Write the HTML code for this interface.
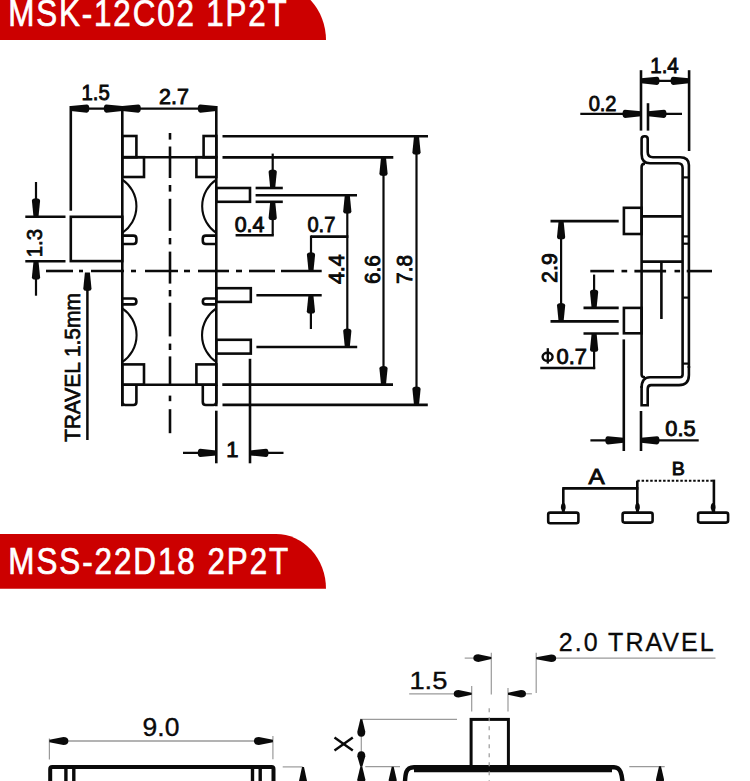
<!DOCTYPE html>
<html><head><meta charset="utf-8"><style>
html,body{margin:0;padding:0;background:#fff;}
body{width:750px;height:781px;overflow:hidden;}
svg{display:block;font-family:"Liberation Sans",sans-serif;}
</style></head><body>
<svg width="750" height="781" viewBox="0 0 750 781">
<rect width="750" height="781" fill="#fff"/>
<path d="M0,-15.2 H276 A50,55.2 0 0 1 326,40 H0 Z" fill="#cc0000"/>
<text x="0" y="0" font-size="36.5" fill="#fff" stroke="#fff" stroke-width="0.7" transform="translate(8.3,25.6) scale(0.86,1)" textLength="323.84" lengthAdjust="spacing">MSK-12C02 1P2T</text>
<path d="M0,534 H276 A50,54.7 0 0 1 326,588.7 H0 Z" fill="#cc0000"/>
<text x="0" y="0" font-size="36.5" fill="#fff" stroke="#fff" stroke-width="0.7" transform="translate(8.3,574) scale(0.86,1)" textLength="325.58" lengthAdjust="spacing">MSS-22D18 2P2T</text>
<line x1="122.3" y1="106" x2="122.3" y2="406.2" stroke="#0a0a0a" stroke-width="2.6"/>
<line x1="216.3" y1="106" x2="216.3" y2="406.2" stroke="#0a0a0a" stroke-width="2.6"/>
<rect x="122.3" y="136" width="14.1" height="21.2" rx="0" fill="none" stroke="#0a0a0a" stroke-width="2.6"/>
<rect x="203.6" y="136" width="12.7" height="21.2" rx="0" fill="none" stroke="#0a0a0a" stroke-width="2.6"/>
<line x1="122.3" y1="157.2" x2="216.3" y2="157.2" stroke="#0a0a0a" stroke-width="2.6"/>
<rect x="122.3" y="157.2" width="21.7" height="19.8" rx="0" fill="none" stroke="#0a0a0a" stroke-width="2.6"/>
<rect x="196.4" y="157.2" width="19.9" height="19.8" rx="0" fill="none" stroke="#0a0a0a" stroke-width="2.6"/>
<path d="M122.3,179.6 A32.3,32.3 0 0 1 122.3,233" fill="none" stroke="#0a0a0a" stroke-width="2.1"/>
<path d="M216.3,179.6 A32.3,32.3 0 0 0 216.3,233" fill="none" stroke="#0a0a0a" stroke-width="2.1"/>
<path d="M122.3,308.4 A32.3,32.3 0 0 1 122.3,362" fill="none" stroke="#0a0a0a" stroke-width="2.1"/>
<path d="M216.3,308.4 A32.3,32.3 0 0 0 216.3,362" fill="none" stroke="#0a0a0a" stroke-width="2.1"/>
<path d="M122.3,235.6 H133.4 Q136.4,235.6 136.4,238.6 V241 Q136.4,244 133.4,244 H122.3" fill="none" stroke="#0a0a0a" stroke-width="2.6"/>
<path d="M216.3,235.6 H205.8 Q202.8,235.6 202.8,238.6 V241 Q202.8,244 205.8,244 H216.3" fill="none" stroke="#0a0a0a" stroke-width="2.6"/>
<path d="M122.3,298.5 H133.4 Q136.4,298.5 136.4,301.5 V301.4 Q136.4,304.4 133.4,304.4 H122.3" fill="none" stroke="#0a0a0a" stroke-width="2.6"/>
<path d="M216.3,298.5 H205.8 Q202.8,298.5 202.8,301.5 V301.4 Q202.8,304.4 205.8,304.4 H216.3" fill="none" stroke="#0a0a0a" stroke-width="2.6"/>
<rect x="122.3" y="364.4" width="21.7" height="20.3" rx="0" fill="none" stroke="#0a0a0a" stroke-width="2.6"/>
<rect x="196.4" y="364.4" width="19.9" height="20.3" rx="0" fill="none" stroke="#0a0a0a" stroke-width="2.6"/>
<line x1="122.3" y1="384.7" x2="216.3" y2="384.7" stroke="#0a0a0a" stroke-width="2.6"/>
<path d="M122.3,384.7 V402 Q122.3,405 125.3,405 H133.4 Q136.4,405 136.4,402 V384.7" fill="none" stroke="#0a0a0a" stroke-width="2.6"/>
<path d="M216.3,384.7 V402 Q216.3,405 213.3,405 H205.8 Q202.8,405 202.8,402 V384.7" fill="none" stroke="#0a0a0a" stroke-width="2.6"/>
<line x1="170" y1="133" x2="170" y2="139.6" stroke="#0a0a0a" stroke-width="2.6"/>
<line x1="170" y1="146.5" x2="170" y2="178" stroke="#0a0a0a" stroke-width="2.6"/>
<line x1="170" y1="185" x2="170" y2="191.6" stroke="#0a0a0a" stroke-width="2.6"/>
<line x1="170" y1="198.8" x2="170" y2="230.8" stroke="#0a0a0a" stroke-width="2.6"/>
<line x1="170" y1="238" x2="170" y2="244.4" stroke="#0a0a0a" stroke-width="2.6"/>
<line x1="170" y1="251.6" x2="170" y2="283.6" stroke="#0a0a0a" stroke-width="2.6"/>
<line x1="170" y1="290" x2="170" y2="296.4" stroke="#0a0a0a" stroke-width="2.6"/>
<line x1="170" y1="302.8" x2="170" y2="336.4" stroke="#0a0a0a" stroke-width="2.6"/>
<line x1="170" y1="343.6" x2="170" y2="350" stroke="#0a0a0a" stroke-width="2.6"/>
<line x1="170" y1="356.4" x2="170" y2="386" stroke="#0a0a0a" stroke-width="2.6"/>
<line x1="170" y1="395.6" x2="170" y2="401.2" stroke="#0a0a0a" stroke-width="2.6"/>
<line x1="170" y1="409.2" x2="170" y2="433.2" stroke="#0a0a0a" stroke-width="2.6"/>
<line x1="46" y1="271" x2="73" y2="271" stroke="#0a0a0a" stroke-width="2.6"/>
<line x1="79" y1="271" x2="83" y2="271" stroke="#0a0a0a" stroke-width="2.6"/>
<line x1="91" y1="271" x2="124" y2="271" stroke="#0a0a0a" stroke-width="2.6"/>
<line x1="131" y1="271" x2="136" y2="271" stroke="#0a0a0a" stroke-width="2.6"/>
<line x1="145" y1="271" x2="178" y2="271" stroke="#0a0a0a" stroke-width="2.6"/>
<line x1="184" y1="271" x2="190" y2="271" stroke="#0a0a0a" stroke-width="2.6"/>
<line x1="198" y1="271" x2="229" y2="271" stroke="#0a0a0a" stroke-width="2.6"/>
<line x1="236" y1="271" x2="242" y2="271" stroke="#0a0a0a" stroke-width="2.6"/>
<line x1="249" y1="271" x2="275" y2="271" stroke="#0a0a0a" stroke-width="2.6"/>
<line x1="281" y1="271" x2="321.7" y2="271" stroke="#0a0a0a" stroke-width="2.6"/>
<line x1="70.8" y1="106" x2="70.8" y2="210.7" stroke="#0a0a0a" stroke-width="2.6"/>
<rect x="70.8" y="216.8" width="51.5" height="44.3" rx="0" fill="none" stroke="#0a0a0a" stroke-width="2.6"/>
<line x1="70.8" y1="108.6" x2="216.3" y2="108.6" stroke="#0a0a0a" stroke-width="2.2"/>
<path transform="translate(70.8,108.6) rotate(0)" d="M0,-2.5 L16,-4.1 Q18.5,-4.1 18.5,0 Q18.5,4.1 16,4.1 L0,2.5 Z" fill="#0a0a0a"/>
<path transform="translate(122.3,108.6) rotate(180)" d="M0,-2.5 L16,-4.1 Q18.5,-4.1 18.5,0 Q18.5,4.1 16,4.1 L0,2.5 Z" fill="#0a0a0a"/>
<path transform="translate(122.3,108.6) rotate(0)" d="M0,-2.5 L16,-4.1 Q18.5,-4.1 18.5,0 Q18.5,4.1 16,4.1 L0,2.5 Z" fill="#0a0a0a"/>
<path transform="translate(216.3,108.6) rotate(180)" d="M0,-2.5 L16,-4.1 Q18.5,-4.1 18.5,0 Q18.5,4.1 16,4.1 L0,2.5 Z" fill="#0a0a0a"/>
<text x="95.6" y="100.4" font-size="22" text-anchor="middle" fill="#0a0a0a" stroke="#0a0a0a" stroke-width="0.9" textLength="28.2" lengthAdjust="spacingAndGlyphs">1.5</text>
<text x="174" y="103.6" font-size="22" text-anchor="middle" fill="#0a0a0a" stroke="#0a0a0a" stroke-width="0.9" textLength="29.8" lengthAdjust="spacingAndGlyphs">2.7</text>
<line x1="25.3" y1="216.8" x2="65.5" y2="216.8" stroke="#0a0a0a" stroke-width="2.6"/>
<line x1="25.3" y1="261.3" x2="65.5" y2="261.3" stroke="#0a0a0a" stroke-width="2.6"/>
<line x1="36" y1="182" x2="36" y2="216.8" stroke="#0a0a0a" stroke-width="2.2"/>
<path transform="translate(36,216.8) rotate(-90)" d="M0,-2.5 L16,-4.1 Q18.5,-4.1 18.5,0 Q18.5,4.1 16,4.1 L0,2.5 Z" fill="#0a0a0a"/>
<line x1="36" y1="261.3" x2="36" y2="295.7" stroke="#0a0a0a" stroke-width="2.2"/>
<path transform="translate(36,261.3) rotate(90)" d="M0,-2.5 L16,-4.1 Q18.5,-4.1 18.5,0 Q18.5,4.1 16,4.1 L0,2.5 Z" fill="#0a0a0a"/>
<text x="0" y="0" font-size="21.5" text-anchor="middle" fill="#0a0a0a" stroke="#0a0a0a" stroke-width="0.7" transform="translate(41.6,243.2) rotate(-90)" textLength="28.3" lengthAdjust="spacingAndGlyphs">1.3</text>
<line x1="87.4" y1="273" x2="87.4" y2="440" stroke="#0a0a0a" stroke-width="2.5"/>
<path transform="translate(87.4,272.6) rotate(90)" d="M0,-2.5 L16,-4.1 Q18.5,-4.1 18.5,0 Q18.5,4.1 16,4.1 L0,2.5 Z" fill="#0a0a0a"/>
<text x="0" y="0" font-size="22" text-anchor="middle" fill="#0a0a0a" stroke="#0a0a0a" stroke-width="0.7" transform="translate(80.3,367.6) rotate(-90)" textLength="149" lengthAdjust="spacingAndGlyphs">TRAVEL 1.5mm</text>
<line x1="222.5" y1="136.3" x2="428" y2="136.3" stroke="#0a0a0a" stroke-width="2.6"/>
<line x1="222.5" y1="157.4" x2="393.3" y2="157.4" stroke="#0a0a0a" stroke-width="2.6"/>
<line x1="222.3" y1="384.6" x2="393" y2="384.6" stroke="#0a0a0a" stroke-width="2.6"/>
<line x1="222.5" y1="404.9" x2="427.8" y2="404.9" stroke="#0a0a0a" stroke-width="2.6"/>
<rect x="216.3" y="188" width="33.7" height="13.8" rx="0" fill="none" stroke="#0a0a0a" stroke-width="2.6"/>
<rect x="216.3" y="288.2" width="34.5" height="13.7" rx="0" fill="none" stroke="#0a0a0a" stroke-width="2.6"/>
<rect x="216.3" y="339.8" width="34.5" height="13.8" rx="0" fill="none" stroke="#0a0a0a" stroke-width="2.6"/>
<line x1="255.6" y1="188" x2="282.8" y2="188" stroke="#0a0a0a" stroke-width="2.6"/>
<line x1="255.6" y1="201.8" x2="282.8" y2="201.8" stroke="#0a0a0a" stroke-width="2.6"/>
<line x1="255.6" y1="195.2" x2="357" y2="195.2" stroke="#0a0a0a" stroke-width="2.6"/>
<line x1="272.7" y1="153.6" x2="272.7" y2="188" stroke="#0a0a0a" stroke-width="2.2"/>
<path transform="translate(272.7,188) rotate(-90)" d="M0,-2.5 L16,-4.1 Q18.5,-4.1 18.5,0 Q18.5,4.1 16,4.1 L0,2.5 Z" fill="#0a0a0a"/>
<line x1="272.7" y1="201.8" x2="272.7" y2="235.2" stroke="#0a0a0a" stroke-width="2.2"/>
<path transform="translate(272.7,201.8) rotate(90)" d="M0,-2.5 L16,-4.1 Q18.5,-4.1 18.5,0 Q18.5,4.1 16,4.1 L0,2.5 Z" fill="#0a0a0a"/>
<line x1="235.6" y1="235.2" x2="273.8" y2="235.2" stroke="#0a0a0a" stroke-width="2.6"/>
<text x="249.6" y="232" font-size="22" text-anchor="middle" fill="#0a0a0a" stroke="#0a0a0a" stroke-width="0.9" textLength="29.8" lengthAdjust="spacingAndGlyphs">0.4</text>
<text x="321.4" y="232" font-size="22" text-anchor="middle" fill="#0a0a0a" stroke="#0a0a0a" stroke-width="0.9" textLength="27.9" lengthAdjust="spacingAndGlyphs">0.7</text>
<line x1="311" y1="236.6" x2="348.4" y2="236.6" stroke="#0a0a0a" stroke-width="2.6"/>
<line x1="311" y1="235.5" x2="311" y2="270.7" stroke="#0a0a0a" stroke-width="2.2"/>
<path transform="translate(311,270.7) rotate(-90)" d="M0,-2.5 L16,-4.1 Q18.5,-4.1 18.5,0 Q18.5,4.1 16,4.1 L0,2.5 Z" fill="#0a0a0a"/>
<line x1="256.4" y1="295.3" x2="321.7" y2="295.3" stroke="#0a0a0a" stroke-width="2.6"/>
<line x1="256.4" y1="347" x2="357.2" y2="347" stroke="#0a0a0a" stroke-width="2.6"/>
<line x1="310.9" y1="295.3" x2="310.9" y2="329" stroke="#0a0a0a" stroke-width="2.2"/>
<path transform="translate(310.9,295.3) rotate(90)" d="M0,-2.5 L16,-4.1 Q18.5,-4.1 18.5,0 Q18.5,4.1 16,4.1 L0,2.5 Z" fill="#0a0a0a"/>
<line x1="347.3" y1="195.2" x2="347.3" y2="347" stroke="#0a0a0a" stroke-width="2.2"/>
<path transform="translate(347.3,195.2) rotate(90)" d="M0,-2.5 L16,-4.1 Q18.5,-4.1 18.5,0 Q18.5,4.1 16,4.1 L0,2.5 Z" fill="#0a0a0a"/>
<path transform="translate(347.3,347) rotate(-90)" d="M0,-2.5 L16,-4.1 Q18.5,-4.1 18.5,0 Q18.5,4.1 16,4.1 L0,2.5 Z" fill="#0a0a0a"/>
<line x1="383.5" y1="157.4" x2="383.5" y2="384.6" stroke="#0a0a0a" stroke-width="2.2"/>
<path transform="translate(383.5,157.4) rotate(90)" d="M0,-2.5 L16,-4.1 Q18.5,-4.1 18.5,0 Q18.5,4.1 16,4.1 L0,2.5 Z" fill="#0a0a0a"/>
<path transform="translate(383.5,384.6) rotate(-90)" d="M0,-2.5 L16,-4.1 Q18.5,-4.1 18.5,0 Q18.5,4.1 16,4.1 L0,2.5 Z" fill="#0a0a0a"/>
<line x1="416.5" y1="136.3" x2="416.5" y2="404.9" stroke="#0a0a0a" stroke-width="2.2"/>
<path transform="translate(416.5,136.3) rotate(90)" d="M0,-2.5 L16,-4.1 Q18.5,-4.1 18.5,0 Q18.5,4.1 16,4.1 L0,2.5 Z" fill="#0a0a0a"/>
<path transform="translate(416.5,404.9) rotate(-90)" d="M0,-2.5 L16,-4.1 Q18.5,-4.1 18.5,0 Q18.5,4.1 16,4.1 L0,2.5 Z" fill="#0a0a0a"/>
<text x="0" y="0" font-size="22" text-anchor="middle" fill="#0a0a0a" stroke="#0a0a0a" stroke-width="0.9" transform="translate(344,269.2) rotate(-90)" textLength="29.8" lengthAdjust="spacingAndGlyphs">4.4</text>
<text x="0" y="0" font-size="22" text-anchor="middle" fill="#0a0a0a" stroke="#0a0a0a" stroke-width="0.9" transform="translate(380.1,269.6) rotate(-90)" textLength="29" lengthAdjust="spacingAndGlyphs">6.6</text>
<text x="0" y="0" font-size="22" text-anchor="middle" fill="#0a0a0a" stroke="#0a0a0a" stroke-width="0.9" transform="translate(411.8,269.5) rotate(-90)" textLength="28.8" lengthAdjust="spacingAndGlyphs">7.8</text>
<line x1="216.3" y1="410.7" x2="216.3" y2="463.3" stroke="#0a0a0a" stroke-width="2.6"/>
<line x1="250" y1="358.8" x2="250" y2="463.3" stroke="#0a0a0a" stroke-width="2.6"/>
<line x1="183" y1="452.9" x2="216.3" y2="452.9" stroke="#0a0a0a" stroke-width="2.2"/>
<path transform="translate(216.3,452.9) rotate(180)" d="M0,-2.5 L16,-4.1 Q18.5,-4.1 18.5,0 Q18.5,4.1 16,4.1 L0,2.5 Z" fill="#0a0a0a"/>
<line x1="250" y1="452.9" x2="283.5" y2="452.9" stroke="#0a0a0a" stroke-width="2.2"/>
<path transform="translate(250,452.9) rotate(0)" d="M0,-2.5 L16,-4.1 Q18.5,-4.1 18.5,0 Q18.5,4.1 16,4.1 L0,2.5 Z" fill="#0a0a0a"/>
<text x="232.4" y="457.2" font-size="22" text-anchor="middle" fill="#0a0a0a" stroke="#0a0a0a" stroke-width="0.9">1</text>
<path d="M641.6,154 V139 Q641.6,136.2 644.6,136.2 H645 Q647.7,136.2 647.7,139 V152 Q647.7,157.2 653,157.2 H680 Q688.9,157.2 688.9,165 V368" fill="none" stroke="#0a0a0a" stroke-width="2.6"/>
<path d="M641.6,154 Q641.6,163.3 650,163.3 H678 Q682.6,163.3 682.6,168 V374.5 Q682.6,377.3 679.8,377.3 H650 Q641.6,377.3 641.6,388" fill="none" stroke="#0a0a0a" stroke-width="2.6"/>
<path d="M645,377.3 Q641.6,377.3 641.6,374.5 V167 Q641.6,163.6 645,163.6" fill="none" stroke="#0a0a0a" stroke-width="2.6"/>
<path d="M688.9,366 V375 Q688.9,385.1 679,385.1 H651 Q647.7,385.1 647.7,389 V405.2 H641.6 V386" fill="none" stroke="#0a0a0a" stroke-width="2.6"/>
<line x1="641.6" y1="216.4" x2="682.6" y2="216.4" stroke="#0a0a0a" stroke-width="2.6"/>
<line x1="641.6" y1="261.6" x2="682.6" y2="261.6" stroke="#0a0a0a" stroke-width="2.6"/>
<line x1="661.4" y1="261.6" x2="661.4" y2="319" stroke="#0a0a0a" stroke-width="2.6"/>
<line x1="682.6" y1="177.4" x2="688.9" y2="177.4" stroke="#0a0a0a" stroke-width="2.2"/>
<line x1="682.6" y1="236.4" x2="688.9" y2="236.4" stroke="#0a0a0a" stroke-width="2.2"/>
<line x1="682.6" y1="243.7" x2="688.9" y2="243.7" stroke="#0a0a0a" stroke-width="2.2"/>
<line x1="682.6" y1="297.6" x2="688.9" y2="297.6" stroke="#0a0a0a" stroke-width="2.2"/>
<line x1="682.6" y1="363.6" x2="688.9" y2="363.6" stroke="#0a0a0a" stroke-width="2.2"/>
<rect x="623.9" y="207.8" width="17.7" height="26.2" rx="0" fill="none" stroke="#0a0a0a" stroke-width="2.6"/>
<rect x="623.9" y="307.9" width="17.7" height="25.4" rx="0" fill="none" stroke="#0a0a0a" stroke-width="2.6"/>
<line x1="590.3" y1="271.1" x2="614.1" y2="271.1" stroke="#0a0a0a" stroke-width="2.6"/>
<line x1="621.5" y1="271.1" x2="627.2" y2="271.1" stroke="#0a0a0a" stroke-width="2.6"/>
<line x1="634.4" y1="271.1" x2="666.1" y2="271.1" stroke="#0a0a0a" stroke-width="2.6"/>
<line x1="674.5" y1="271.1" x2="680.1" y2="271.1" stroke="#0a0a0a" stroke-width="2.6"/>
<line x1="686.7" y1="271.1" x2="712" y2="271.1" stroke="#0a0a0a" stroke-width="2.6"/>
<line x1="641" y1="70.2" x2="641" y2="130.6" stroke="#0a0a0a" stroke-width="2.6"/>
<line x1="689.1" y1="70.2" x2="689.1" y2="151" stroke="#0a0a0a" stroke-width="2.6"/>
<line x1="641" y1="80.8" x2="689.1" y2="80.8" stroke="#0a0a0a" stroke-width="2.2"/>
<path transform="translate(641,80.8) rotate(0)" d="M0,-2.5 L16,-4.1 Q18.5,-4.1 18.5,0 Q18.5,4.1 16,4.1 L0,2.5 Z" fill="#0a0a0a"/>
<path transform="translate(689.1,80.8) rotate(180)" d="M0,-2.5 L16,-4.1 Q18.5,-4.1 18.5,0 Q18.5,4.1 16,4.1 L0,2.5 Z" fill="#0a0a0a"/>
<text x="664.5" y="73.3" font-size="22" text-anchor="middle" fill="#0a0a0a" stroke="#0a0a0a" stroke-width="0.9" textLength="28.5" lengthAdjust="spacingAndGlyphs">1.4</text>
<line x1="648" y1="103.2" x2="648" y2="130.6" stroke="#0a0a0a" stroke-width="2.6"/>
<line x1="580.3" y1="113.8" x2="641" y2="113.8" stroke="#0a0a0a" stroke-width="2.2"/>
<path transform="translate(641,113.8) rotate(180)" d="M0,-2.5 L16,-4.1 Q18.5,-4.1 18.5,0 Q18.5,4.1 16,4.1 L0,2.5 Z" fill="#0a0a0a"/>
<line x1="648" y1="113.8" x2="682" y2="113.8" stroke="#0a0a0a" stroke-width="2.2"/>
<path transform="translate(648,113.8) rotate(0)" d="M0,-2.5 L16,-4.1 Q18.5,-4.1 18.5,0 Q18.5,4.1 16,4.1 L0,2.5 Z" fill="#0a0a0a"/>
<text x="602.6" y="110.7" font-size="22" text-anchor="middle" fill="#0a0a0a" stroke="#0a0a0a" stroke-width="0.9" textLength="27.9" lengthAdjust="spacingAndGlyphs">0.2</text>
<line x1="550.5" y1="221.1" x2="618.7" y2="221.1" stroke="#0a0a0a" stroke-width="2.6"/>
<line x1="550.5" y1="321.4" x2="618.7" y2="321.4" stroke="#0a0a0a" stroke-width="2.6"/>
<line x1="561.1" y1="221.1" x2="561.1" y2="321.4" stroke="#0a0a0a" stroke-width="2.2"/>
<path transform="translate(561.1,221.1) rotate(90)" d="M0,-2.5 L16,-4.1 Q18.5,-4.1 18.5,0 Q18.5,4.1 16,4.1 L0,2.5 Z" fill="#0a0a0a"/>
<path transform="translate(561.1,321.4) rotate(-90)" d="M0,-2.5 L16,-4.1 Q18.5,-4.1 18.5,0 Q18.5,4.1 16,4.1 L0,2.5 Z" fill="#0a0a0a"/>
<text x="0" y="0" font-size="22" text-anchor="middle" fill="#0a0a0a" stroke="#0a0a0a" stroke-width="0.9" transform="translate(557.1,268) rotate(-90)" textLength="29.8" lengthAdjust="spacingAndGlyphs">2.9</text>
<line x1="583.5" y1="307.9" x2="618.7" y2="307.9" stroke="#0a0a0a" stroke-width="2.6"/>
<line x1="583.5" y1="333.5" x2="618.7" y2="333.5" stroke="#0a0a0a" stroke-width="2.6"/>
<line x1="594.1" y1="274.6" x2="594.1" y2="307.9" stroke="#0a0a0a" stroke-width="2.2"/>
<path transform="translate(594.1,307.9) rotate(-90)" d="M0,-2.5 L16,-4.1 Q18.5,-4.1 18.5,0 Q18.5,4.1 16,4.1 L0,2.5 Z" fill="#0a0a0a"/>
<line x1="594.1" y1="333.5" x2="594.1" y2="369.1" stroke="#0a0a0a" stroke-width="2.2"/>
<path transform="translate(594.1,333.5) rotate(90)" d="M0,-2.5 L16,-4.1 Q18.5,-4.1 18.5,0 Q18.5,4.1 16,4.1 L0,2.5 Z" fill="#0a0a0a"/>
<line x1="540.3" y1="368" x2="595.2" y2="368" stroke="#0a0a0a" stroke-width="2.6"/>
<ellipse cx="547.6" cy="356.8" rx="5" ry="4.1" fill="none" stroke="#0a0a0a" stroke-width="2.4"/>
<line x1="547.8" y1="348.2" x2="547.8" y2="363.6" stroke="#0a0a0a" stroke-width="2.3"/>
<text x="571.7" y="363.6" font-size="22" text-anchor="middle" fill="#0a0a0a" stroke="#0a0a0a" stroke-width="0.9" textLength="30.4" lengthAdjust="spacingAndGlyphs">0.7</text>
<line x1="623.8" y1="339.4" x2="623.8" y2="451" stroke="#0a0a0a" stroke-width="2.6"/>
<line x1="641" y1="411" x2="641" y2="451" stroke="#0a0a0a" stroke-width="2.6"/>
<line x1="590.4" y1="440.3" x2="623.8" y2="440.3" stroke="#0a0a0a" stroke-width="2.2"/>
<path transform="translate(623.8,440.3) rotate(180)" d="M0,-2.5 L16,-4.1 Q18.5,-4.1 18.5,0 Q18.5,4.1 16,4.1 L0,2.5 Z" fill="#0a0a0a"/>
<line x1="641" y1="440.3" x2="698.7" y2="440.3" stroke="#0a0a0a" stroke-width="2.2"/>
<path transform="translate(641,440.3) rotate(0)" d="M0,-2.5 L16,-4.1 Q18.5,-4.1 18.5,0 Q18.5,4.1 16,4.1 L0,2.5 Z" fill="#0a0a0a"/>
<text x="680.5" y="436.3" font-size="22" text-anchor="middle" fill="#0a0a0a" stroke="#0a0a0a" stroke-width="0.9" textLength="30.3" lengthAdjust="spacingAndGlyphs">0.5</text>
<line x1="562.2" y1="488.4" x2="638.4" y2="488.4" stroke="#0a0a0a" stroke-width="2.6"/>
<line x1="563.3" y1="488.4" x2="563.3" y2="512.3" stroke="#0a0a0a" stroke-width="2.6"/>
<line x1="637.3" y1="480.7" x2="637.3" y2="512.3" stroke="#0a0a0a" stroke-width="2.6"/>
<line x1="637.3" y1="480.7" x2="713.9" y2="480.7" stroke="#0a0a0a" stroke-width="2" stroke-dasharray="2.5,1.8"/>
<line x1="713.9" y1="479.6" x2="713.9" y2="512.3" stroke="#0a0a0a" stroke-width="2.6"/>
<path transform="translate(563.3,512) rotate(-90)" d="M0,-1 L4,-2.4 Q9,-2.4 9,0 Q9,2.4 4,2.4 L0,1 Z" fill="#0a0a0a"/>
<path transform="translate(637.5,512) rotate(-90)" d="M0,-1 L4,-2.4 Q9,-2.4 9,0 Q9,2.4 4,2.4 L0,1 Z" fill="#0a0a0a"/>
<path transform="translate(713.1,512) rotate(-90)" d="M0,-1 L4,-2.4 Q9,-2.4 9,0 Q9,2.4 4,2.4 L0,1 Z" fill="#0a0a0a"/>
<rect x="548.2" y="512.6" width="30.2" height="10.6" rx="2" fill="none" stroke="#0a0a0a" stroke-width="2.6"/>
<rect x="622.6" y="512.6" width="30" height="10" rx="2" fill="none" stroke="#0a0a0a" stroke-width="2.6"/>
<rect x="698.1" y="512.6" width="30" height="10" rx="2" fill="none" stroke="#0a0a0a" stroke-width="2.6"/>
<text x="596.5" y="484.3" font-size="22" text-anchor="middle" fill="#0a0a0a" stroke="#0a0a0a" stroke-width="0.9" textLength="16.2" lengthAdjust="spacingAndGlyphs">A</text>
<text x="678.2" y="474.8" font-size="19" text-anchor="middle" fill="#0a0a0a" stroke="#0a0a0a" stroke-width="0.9" textLength="13.1" lengthAdjust="spacingAndGlyphs">B</text>
<line x1="49.4" y1="738.4" x2="49.4" y2="759.4" stroke="#9a9a9a" stroke-width="1.2"/>
<line x1="272.9" y1="736" x2="272.9" y2="759.3" stroke="#9a9a9a" stroke-width="1.2"/>
<line x1="49.4" y1="741" x2="272.9" y2="741" stroke="#9a9a9a" stroke-width="1.4"/>
<path transform="translate(49.4,741) rotate(0)" d="M0,-1.2 L14,-4 Q19,-4 19,0 Q19,4 14,4 L0,1.2 Z" fill="#0a0a0a"/>
<path transform="translate(272.9,741) rotate(180)" d="M0,-1.2 L14,-4 Q19,-4 19,0 Q19,4 14,4 L0,1.2 Z" fill="#0a0a0a"/>
<text x="161" y="736.4" font-size="26" text-anchor="middle" fill="#0a0a0a" stroke="#0a0a0a" stroke-width="0.35" textLength="36.8" lengthAdjust="spacingAndGlyphs">9.0</text>
<path d="M50.2,790 V769 Q50.2,767 52.2,767 H271.5 Q273.5,767 273.5,769 V790" fill="none" stroke="#0a0a0a" stroke-width="4"/>
<line x1="65.9" y1="767" x2="65.9" y2="790" stroke="#0a0a0a" stroke-width="3.4"/>
<line x1="73.8" y1="767" x2="73.8" y2="790" stroke="#0a0a0a" stroke-width="3.4"/>
<line x1="252.5" y1="767" x2="252.5" y2="790" stroke="#0a0a0a" stroke-width="3.4"/>
<line x1="260.2" y1="767" x2="260.2" y2="790" stroke="#0a0a0a" stroke-width="3.4"/>
<line x1="282.7" y1="766.9" x2="302.7" y2="766.9" stroke="#9a9a9a" stroke-width="1.2"/>
<path transform="translate(303,767) rotate(90)" d="M0,-1 L14,-4 Q19,-4 19,0 Q19,4 14,4 L0,1 Z" fill="#0a0a0a"/>
<rect x="471.1" y="719.4" width="37.3" height="48.6" rx="0" fill="none" stroke="#0a0a0a" stroke-width="3"/>
<path d="M404.8,790 C404.8,772 406,767.2 414,767.2 H614 C620,767.2 622.5,772 623,790" fill="none" stroke="#0a0a0a" stroke-width="4.4"/>
<line x1="414" y1="770" x2="612" y2="770" stroke="#0a0a0a" stroke-width="4.4"/>
<line x1="489.2" y1="708.3" x2="489.2" y2="712.3" stroke="#9a9a9a" stroke-width="1.2"/>
<line x1="489.2" y1="717.3" x2="489.2" y2="721.3" stroke="#9a9a9a" stroke-width="1.2"/>
<line x1="489.2" y1="726.3" x2="489.2" y2="730.3" stroke="#9a9a9a" stroke-width="1.2"/>
<line x1="489.2" y1="735.3" x2="489.2" y2="739.3" stroke="#9a9a9a" stroke-width="1.2"/>
<line x1="489.2" y1="744.3" x2="489.2" y2="748.3" stroke="#9a9a9a" stroke-width="1.2"/>
<line x1="489.2" y1="753.3" x2="489.2" y2="757.3" stroke="#9a9a9a" stroke-width="1.2"/>
<line x1="489.2" y1="762.3" x2="489.2" y2="766.3" stroke="#9a9a9a" stroke-width="1.2"/>
<line x1="489.2" y1="771.3" x2="489.2" y2="775.3" stroke="#9a9a9a" stroke-width="1.2"/>
<line x1="489.2" y1="780.3" x2="489.2" y2="784.3" stroke="#9a9a9a" stroke-width="1.2"/>
<line x1="471.7" y1="685.9" x2="471.7" y2="711.5" stroke="#9a9a9a" stroke-width="1.2"/>
<line x1="508" y1="688" x2="508" y2="711.5" stroke="#9a9a9a" stroke-width="1.2"/>
<line x1="409.2" y1="693.8" x2="471.7" y2="693.8" stroke="#9a9a9a" stroke-width="1.2"/>
<path transform="translate(471.7,693.8) rotate(180)" d="M0,-1 L13,-3.8 Q18,-3.8 18,0 Q18,3.8 13,3.8 L0,1 Z" fill="#0a0a0a"/>
<line x1="508" y1="693.8" x2="531.9" y2="693.8" stroke="#9a9a9a" stroke-width="1.2"/>
<path transform="translate(508,693.8) rotate(0)" d="M0,-1 L13,-3.8 Q18,-3.8 18,0 Q18,3.8 13,3.8 L0,1 Z" fill="#0a0a0a"/>
<text x="428.4" y="689.1" font-size="24" text-anchor="middle" fill="#0a0a0a" stroke="#0a0a0a" stroke-width="0.35" textLength="38" lengthAdjust="spacingAndGlyphs">1.5</text>
<line x1="491.3" y1="652.8" x2="491.3" y2="694.4" stroke="#9a9a9a" stroke-width="1.2"/>
<line x1="464.7" y1="658.1" x2="491.3" y2="658.1" stroke="#9a9a9a" stroke-width="1.2"/>
<path transform="translate(491.3,658.1) rotate(180)" d="M0,-1 L13,-3.8 Q18,-3.8 18,0 Q18,3.8 13,3.8 L0,1 Z" fill="#0a0a0a"/>
<line x1="536.2" y1="652.8" x2="536.2" y2="693" stroke="#9a9a9a" stroke-width="1.2"/>
<line x1="536.2" y1="658.2" x2="715.5" y2="658.2" stroke="#9a9a9a" stroke-width="1.2"/>
<path transform="translate(536.2,658.2) rotate(0)" d="M0,-1 L15,-3.8 Q20,-3.8 20,0 Q20,3.8 15,3.8 L0,1 Z" fill="#0a0a0a"/>
<text x="636.2" y="650.6" font-size="25" text-anchor="middle" fill="#0a0a0a" stroke="#0a0a0a" stroke-width="0.3" textLength="154.7" lengthAdjust="spacing">2.0 TRAVEL</text>
<line x1="360" y1="719.3" x2="457" y2="719.3" stroke="#9a9a9a" stroke-width="1.2"/>
<line x1="361.3" y1="719.3" x2="361.3" y2="790" stroke="#9a9a9a" stroke-width="1.2"/>
<path transform="translate(361.3,719.3) rotate(90)" d="M0,-1 L12.5,-4 Q17.5,-4 17.5,0 Q17.5,4 12.5,4 L0,1 Z" fill="#0a0a0a"/>
<path transform="translate(361.3,766.7) rotate(-90)" d="M0,-1 L10.5,-4 Q15.5,-4 15.5,0 Q15.5,4 10.5,4 L0,1 Z" fill="#0a0a0a"/>
<path transform="translate(361.3,766.7) rotate(90)" d="M0,-1 L12.5,-4 Q17.5,-4 17.5,0 Q17.5,4 12.5,4 L0,1 Z" fill="#0a0a0a"/>
<line x1="334.5" y1="737.5" x2="352.8" y2="750.5" stroke="#0a0a0a" stroke-width="2.4"/>
<line x1="334.5" y1="750.5" x2="352.8" y2="737.5" stroke="#0a0a0a" stroke-width="2.4"/>
<line x1="365.3" y1="766.7" x2="400" y2="766.7" stroke="#9a9a9a" stroke-width="1.2"/>
<path transform="translate(392.7,766.7) rotate(90)" d="M0,-1 L13,-4 Q18,-4 18,0 Q18,4 13,4 L0,1 Z" fill="#0a0a0a"/>
<line x1="629.3" y1="766.6" x2="664.7" y2="766.6" stroke="#9a9a9a" stroke-width="1.2"/>
<path transform="translate(660,766.3) rotate(90)" d="M0,-1 L13,-4 Q18,-4 18,0 Q18,4 13,4 L0,1 Z" fill="#0a0a0a"/>
</svg>
</body></html>
